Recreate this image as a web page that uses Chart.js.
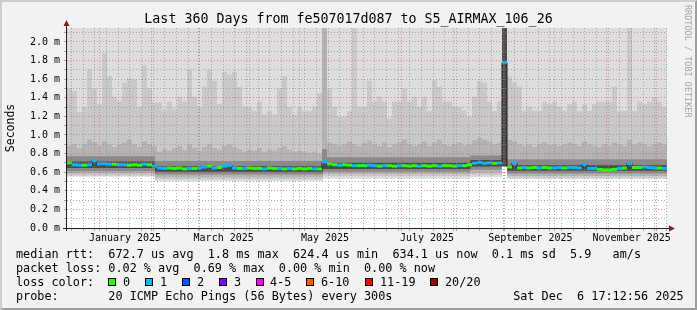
<!DOCTYPE html>
<html>
<head>
<meta charset="utf-8">
<script src="https://cdn.jsdelivr.net/npm/chart.js@4/dist/chart.umd.min.js"></script>
<style>
  html, body { margin: 0; padding: 0; background: #f2f2f2; }
  #wrap { position: relative; width: 697px; height: 310px; overflow: hidden; }
  #frame {
    position: absolute; left: 0; top: 0; width: 697px; height: 310px; box-sizing: border-box;
    border: 2px solid; border-color: #cecece #9e9e9e #9e9e9e #cecece; background: #f2f2f2;
  }
  #smoke { position: absolute; left: 0; top: 0; }
  .row {
    position: absolute; left: 16px; font-family: 'DejaVu Sans Mono', monospace;
    font-size: 11.8px; line-height: 14px; white-space: pre; color: #000;
  }
  .box { position: absolute; top: 278px; width: 8px; height: 8px; box-sizing: border-box; border: 1px solid #000; }
  #mark {
    position: absolute; left: 693px; top: 5px; transform: rotate(90deg); transform-origin: 0 0;
    font-family: 'DejaVu Sans Mono', monospace; font-size: 8.5px; line-height: 10px;
    white-space: pre; color: #a4a4a4;
  }
</style>
</head>
<body>
<div id="wrap">
  <div id="frame"></div>
  <canvas id="smoke" width="697" height="310"></canvas>
  <div class="row" style="top:247px">median rtt:  672.7 us avg  1.8 ms max  624.4 us min  634.1 us now  0.1 ms sd  5.9   am/s</div>
  <div class="row" style="top:261px">packet loss: 0.02 % avg  0.69 % max  0.00 % min  0.00 % now</div>
  <div class="row" id="lossRow" style="top:275px">loss color:</div>
  <div class="row" style="top:289px">probe:       20 ICMP Echo Pings (56 Bytes) every 300s                 Sat Dec  6 17:12:56 2025</div>
  <div id="mark">RRDTOOL / TOBI OETIKER</div>
</div>
<script>
// 360 Tage, eine Spalte = 3 Tage (120 Spalten), Werte in ms
const DAYS = 360;
const COL_DAYS = 3;

const medianMs = [
  0.70, 0.68, 0.675, 0.675, 0.68, 0.725, 0.69, 0.69, 0.685, 0.685,
  0.68, 0.68, 0.675, 0.68, 0.675, 0.685, 0.68, 0.665, 0.645, 0.64,
  0.645, 0.64, 0.645, 0.635, 0.64, 0.64, 0.645, 0.655, 0.665, 0.645,
  0.65, 0.665, 0.675, 0.645, 0.64, 0.64, 0.645, 0.64, 0.64, 0.635,
  0.645, 0.64, 0.64, 0.635, 0.64, 0.635, 0.64, 0.635, 0.64, 0.635,
  0.635, 0.71, 0.69, 0.68, 0.675, 0.68, 0.675, 0.67, 0.67, 0.67,
  0.675, 0.67, 0.665, 0.67, 0.67, 0.665, 0.67, 0.67, 0.665, 0.67,
  0.665, 0.67, 0.665, 0.67, 0.665, 0.67, 0.67, 0.665, 0.67, 0.67,
  0.68, 0.695, 0.705, 0.695, 0.70, 0.695, 0.70, 1.78, 0.655, 0.70,
  0.645, 0.65, 0.645, 0.65, 0.645, 0.65, 0.645, 0.645, 0.65, 0.645,
  0.65, 0.65, 0.645, 0.685, 0.64, 0.64, 0.63, 0.625, 0.625, 0.63,
  0.64, 0.645, 0.695, 0.65, 0.65, 0.655, 0.65, 0.645, 0.645, 0.64,
];

// verlorene Pings pro Spalte (0 = grün, 1 = hellblau)
const lossCount = [
  0, 1, 1, 0, 1, 1, 1, 1, 1, 0,
  1, 1, 0, 0, 0, 1, 0, 1, 1, 1,
  0, 0, 0, 0, 1, 0, 1, 1, 0, 1,
  0, 1, 1, 1, 0, 1, 0, 0, 0, 1,
  0, 0, 1, 0, 1, 0, 0, 0, 0, 1,
  0, 1, 0, 0, 1, 0, 0, 1, 0, 0,
  1, 1, 0, 1, 0, 0, 1, 0, 0, 0,
  1, 0, 0, 0, 1, 0, 0, 0, 1, 0,
  0, 1, 1, 1, 1, 0, 1, 1, 0, 1,
  0, 1, 0, 0, 1, 0, 0, 1, 1, 0,
  1, 1, 1, 1, 1, 1, 0, 0, 0, 0,
  1, 0, 1, 0, 0, 1, 1, 1, 0, 1,
];

// obere Rauchkante (hellgraue Spitzen)
const smokeHi1 = [
  1.5, 1.47, 1.25, 1.3, 1.7, 1.5, 1.33, 1.88, 1.63, 1.41,
  1.36, 1.56, 1.61, 1.6, 1.3, 1.75, 1.5, 1.35, 1.35, 1.27,
  1.36, 1.28, 1.41, 1.36, 1.7, 1.41, 1.3, 1.52, 1.7, 1.58,
  1.33, 1.68, 1.65, 1.68, 1.52, 1.3, 1.3, 1.26, 1.36, 1.22,
  1.26, 1.22, 1.5, 1.63, 1.3, 1.22, 1.3, 1.26, 1.26, 1.3,
  1.45, 2.2, 1.5, 1.3, 1.2, 1.2, 1.26, 2.2, 1.3, 1.3,
  1.58, 1.36, 1.41, 1.36, 1.18, 1.36, 1.36, 1.5, 1.36, 1.41,
  1.3, 1.41, 1.26, 1.59, 1.52, 1.36, 1.36, 1.3, 1.3, 1.26,
  1.2, 1.41, 1.58, 1.56, 1.36, 1.26, 1.36, 2.2, 1.63, 1.56,
  1.52, 1.26, 1.3, 1.26, 1.26, 1.36, 1.33, 1.36, 1.3, 1.26,
  1.33, 1.36, 1.26, 1.33, 1.26, 1.33, 1.36, 1.36, 1.36, 1.52,
  1.26, 1.26, 2.2, 1.26, 1.36, 1.33, 1.36, 1.4, 1.36, 1.3,
];

const smokeHi2 = [
  0.88, 0.9, 0.86, 0.9, 0.95, 0.92, 0.88, 0.93, 0.9, 0.87,
  0.9, 0.92, 0.95, 0.9, 0.87, 0.93, 0.9, 0.88, 0.82, 0.85,
  0.83, 0.86, 0.88, 0.84, 0.9, 0.86, 0.83, 0.87, 0.9, 0.86,
  0.84, 0.88, 0.9, 0.87, 0.85, 0.82, 0.84, 0.83, 0.86, 0.82,
  0.84, 0.83, 0.86, 0.88, 0.84, 0.82, 0.83, 0.82, 0.81, 0.82,
  0.8, 2.2, 0.92, 0.9, 0.88, 0.9, 0.93, 0.9, 0.88, 0.91,
  0.94, 0.9, 0.88, 0.92, 0.87, 0.9, 0.92, 0.95, 0.9, 0.88,
  0.9, 0.93, 0.88, 0.92, 0.95, 0.9, 0.88, 0.9, 0.92, 0.89,
  0.9, 0.94, 0.97, 0.95, 0.93, 0.9, 0.92, 2.2, 0.95, 0.93,
  0.9, 0.88, 0.9, 0.87, 0.9, 0.92, 0.89, 0.9, 0.88, 0.9,
  0.92, 0.9, 0.88, 0.93, 0.9, 0.88, 0.87, 0.9, 0.88, 0.92,
  0.9, 0.88, 0.95, 0.9, 0.92, 0.9, 0.88, 0.9, 0.92, 0.9,
];

// Stufen [Tag, Wert] fuer die inneren Rauchbaender
const smokeHi3 = [[0, 0.77], [52.8, 0.72], [153, 0.85], [156, 0.76], [242, 0.78], [261, 2.2], [264, 0.74], [360, 0.74]];
const smokeHi4 = [[0, 0.715], [52.8, 0.665], [153.6, 0.70], [242, 0.73], [261, 2.2], [264, 0.675], [360, 0.675]];
const smokeLo4 = [[0, 0.645], [52.8, 0.605], [153.6, 0.635], [242, 0.66], [261, 0.665], [264, 0.615], [360, 0.615]];
const smokeLo3 = [[0, 0.61], [52.8, 0.575], [153.6, 0.605], [242, 0.625], [261, 0.665], [264, 0.585], [360, 0.585]];
const smokeLo2 = [[0, 0.585], [52.8, 0.545], [153.6, 0.58], [242, 0.595], [261, 0.665], [264, 0.56], [360, 0.56]];
const smokeLo1 = [[0, 0.565], [52.8, 0.525], [153.6, 0.555], [242, 0.57], [261, 0.665], [264, 0.54], [360, 0.54]];
const smokeLo0 = [[0, 0.55], [52.8, 0.505], [153.6, 0.53], [242, 0.545], [261, 0.665], [264, 0.525], [360, 0.525]];

const yTickValues = [0, 0.1, 0.2, 0.3, 0.4, 0.5, 0.6, 0.7, 0.8, 0.9, 1.0, 1.1, 1.2, 1.3, 1.4, 1.5, 1.6, 1.7, 1.8, 1.9, 2.0, 2.1];
const yTickLabels = ['0.0 m', '', '0.2 m', '', '0.4 m', '', '0.6 m', '', '0.8 m', '', '1.0 m', '', '1.2 m', '', '1.4 m', '', '1.6 m', '', '1.8 m', '', '2.0 m', ''];

const monthStartDays = [19.6, 50.6, 78.6, 109.6, 139.6, 170.6, 200.6, 231.6, 262.6, 292.6, 323.6, 353.6];
const monthLabels = ['January 2025', 'March 2025', 'May 2025', 'July 2025', 'September 2025', 'November 2025'];
const monthLabelDays = [34.8, 94, 154.8, 216, 278, 338.8];
const weekDays = [];
for (let d = 2.6; d < DAYS; d += 7) {
  if (!monthStartDays.some((m) => Math.abs(m - d) < 0.01)) weekDays.push(d);
}

const lossBins = ['0', '1', '2', '3', '4-5', '6-10', '11-19', '20/20'];
const lossBinColors = ['#26ff00', '#00b8ff', '#0059ff', '#7e00ff', '#ff00ff', '#ff5500', '#ff0000', '#a00000'];
const lossBoxX = [108, 145, 182, 219, 256, 306, 365, 430];
const lossTextX = [123, 160, 197, 234, 270, 321, 380, 445];

const GRID = 'rgba(143,143,143,0.75)';
const MGRID = 'rgba(222,79,79,0.6)';

// Legende der Verlustfarben
const wrap = document.getElementById('wrap');
const lossRow = document.getElementById('lossRow');
lossBins.forEach((b, i) => {
  const box = document.createElement('div');
  box.className = 'box';
  box.style.left = lossBoxX[i] + 'px';
  box.style.background = lossBinColors[i];
  wrap.appendChild(box);
  const t = document.createElement('div');
  t.className = 'row';
  t.style.top = lossRow.style.top;
  t.style.left = lossTextX[i] + 'px';
  t.textContent = b;
  wrap.appendChild(t);
});

const cols = (a) => a.map((v, i) => ({ x: i * COL_DAYS, y: v })).concat([{ x: DAYS, y: a[a.length - 1] }]);
const steps = (a) => a.map(([x, y]) => ({ x, y }));
const band = (data, extra) => Object.assign({
  data, stepped: true, borderWidth: 0, borderColor: 'transparent', pointRadius: 0, fill: false,
}, extra);

const plotBg = {
  id: 'plotBg',
  beforeDraw(chart) {
    const { ctx, chartArea: a } = chart;
    ctx.save();
    ctx.fillStyle = '#ffffff';
    ctx.fillRect(a.left, a.top, a.right - a.left, a.bottom - a.top);
    ctx.restore();
  },
};

const axisArrows = {
  id: 'axisArrows',
  afterDraw(chart) {
    const { ctx, chartArea: a } = chart;
    const x0 = a.left - 0.5;
    const y0 = a.bottom + 0.5;
    ctx.save();
    ctx.strokeStyle = '#1f1f1f';
    ctx.lineWidth = 1;
    ctx.beginPath();
    ctx.moveTo(x0, a.bottom + 3);
    ctx.lineTo(x0, a.top - 4);
    ctx.moveTo(a.left - 4, y0);
    ctx.lineTo(a.right + 3, y0);
    ctx.stroke();
    ctx.fillStyle = '#801f1f';
    ctx.beginPath();
    ctx.moveTo(x0, a.top - 8);
    ctx.lineTo(x0 - 3, a.top - 2);
    ctx.lineTo(x0 + 3, a.top - 2);
    ctx.closePath();
    ctx.fill();
    ctx.beginPath();
    ctx.moveTo(a.right + 8, y0);
    ctx.lineTo(a.right + 2, y0 - 3);
    ctx.lineTo(a.right + 2, y0 + 3);
    ctx.closePath();
    ctx.fill();
    ctx.restore();
  },
};

Chart.defaults.font.family = "'DejaVu Sans Mono', monospace";
Chart.defaults.color = '#000';

const isMonth = (v) => monthStartDays.includes(v);

new Chart(document.getElementById('smoke'), {
  type: 'line',
  data: {
    datasets: [
      band(steps(smokeLo0), { fill: 'end', backgroundColor: '#dddddd', order: 20 }),
      band(steps(smokeLo1), { order: 19 }),
      band(cols(smokeHi1), { fill: 1, backgroundColor: '#c9c9c9', order: 19 }),
      band(steps(smokeLo2), { order: 18 }),
      band(cols(smokeHi2), { fill: 3, backgroundColor: '#b3b3b3', order: 18 }),
      band(steps(smokeLo3), { order: 17 }),
      band(steps(smokeHi3), { fill: 5, backgroundColor: '#8a8a8a', order: 17 }),
      band(steps(smokeLo4), { order: 16 }),
      band(steps(smokeHi4), { fill: 7, backgroundColor: '#4a4a4a', order: 16 }),
      {
        data: cols(medianMs), stepped: true, borderColor: '#202020', borderWidth: 1,
        pointRadius: 0, fill: false, order: 2,
      },
      {
        data: medianMs.map((v, i) => ({ x: i * COL_DAYS + COL_DAYS / 2, y: v })),
        showLine: false, pointStyle: 'line', pointRadius: 2.5, pointBorderWidth: 3,
        pointBorderColor: lossCount.map((l) => lossBinColors[l]), order: 1,
      },
    ],
  },
  options: {
    responsive: false,
    animation: false,
    events: [],
    layout: { padding: 0 },
    plugins: {
      legend: { display: false },
      tooltip: { enabled: false },
      title: {
        display: true,
        text: 'Last 360 Days from fe507017d087 to S5_AIRMAX_106_26',
        font: { size: 13.3, weight: 'normal' },
        color: '#000',
        padding: { top: 12, bottom: 0 },
      },
    },
    scales: {
      x: {
        type: 'linear', min: 0, max: DAYS, position: 'bottom',
        afterBuildTicks: (ax) => {
          ax.ticks = weekDays.concat(monthStartDays).sort((p, q) => p - q).map((v) => ({ value: v }));
        },
        ticks: { display: false },
        grid: {
          z: 1,
          color: (c) => (isMonth(c.tick.value) ? MGRID : GRID),
          tickColor: (c) => (isMonth(c.tick.value) ? MGRID : GRID),
          drawTicks: true, tickLength: 3, tickBorderDash: [],
        },
        border: { display: false, dash: [1, 2] },
        afterFit: (ax) => { ax.height = 0; },
      },
      xl: {
        type: 'linear', min: 0, max: DAYS, position: 'bottom',
        afterBuildTicks: (ax) => { ax.ticks = monthLabelDays.map((v) => ({ value: v })); },
        ticks: {
          callback: (v, i) => monthLabels[i],
          autoSkip: false, maxRotation: 0, minRotation: 0, padding: 4,
          font: { size: 10 }, color: '#000',
        },
        grid: { display: false, drawTicks: false },
        border: { display: false },
        afterFit: (ax) => { ax.height = 82; },
      },
      y: {
        type: 'linear', min: 0, max: 2.15, position: 'left',
        afterBuildTicks: (ax) => { ax.ticks = yTickValues.map((v) => ({ value: v })); },
        ticks: {
          callback: (v, i) => yTickLabels[i],
          autoSkip: false, padding: 4, font: { size: 10 }, color: '#000',
        },
        grid: {
          z: 1,
          color: (c) => (yTickLabels[c.index] ? MGRID : GRID),
          tickColor: (c) => (yTickLabels[c.index] ? MGRID : GRID),
          drawTicks: true, tickLength: 3, tickBorderDash: [],
        },
        border: { display: false, dash: [1, 2] },
        title: {
          display: true, text: 'Seconds', font: { size: 11.5 }, color: '#000',
          padding: { top: 4, bottom: 0 },
        },
        afterFit: (ax) => { ax.width = 67; },
      },
      yr: {
        type: 'linear', position: 'right',
        ticks: { display: false },
        grid: { display: false, drawTicks: false },
        border: { display: false },
        afterFit: (ax) => { ax.width = 30; },
      },
    },
  },
  plugins: [plotBg, axisArrows],
});
</script>
</body>
</html>
